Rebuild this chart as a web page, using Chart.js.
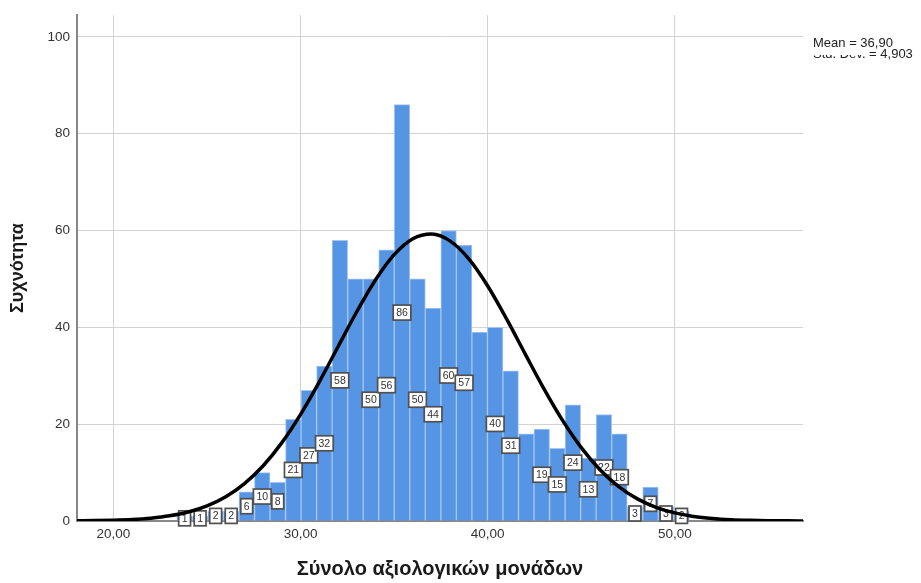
<!DOCTYPE html>
<html>
<head>
<meta charset="utf-8">
<script src="https://cdn.jsdelivr.net/npm/chart.js@4.4.1/dist/chart.umd.min.js"></script>
<style>
  html, body { margin: 0; padding: 0; background: #fff; }
  #wrap { width: 921px; height: 583px; }
</style>
</head>
<body>
<div id="wrap"><canvas id="hist" width="921" height="583"></canvas></div>
<script>
// histogram bins (centre of each bin) and counts
const binCenters = [23.80, 24.63, 25.46, 26.29, 27.12, 27.95, 28.78, 29.61, 30.44, 31.27,
  32.10, 32.93, 33.76, 34.59, 35.42, 36.25, 37.08, 37.91, 38.74, 39.57, 40.40, 41.23,
  42.06, 42.89, 43.72, 44.55, 45.38, 46.21, 47.04, 47.87, 48.70, 49.53, 50.36];
const counts = [1, 1, 2, 2, 6, 10, 8, 21, 27, 32, 58, 50, 50, 56, 86, 50, 44, 60, 57, 39,
  40, 31, 18, 19, 15, 24, 13, 22, 18, 3, 7, 3, 2];
// labels SPSS actually shows (overlapping ones are dropped)
const barLabels = ['1', '1', '2', '2', '6', '10', '8', '21', '27', '32', '58', null, '50',
  '56', '86', '50', '44', '60', '57', null, '40', '31', null, '19', '15', '24', '13', '22',
  '18', '3', '7', '3', '2'];

// normal curve
const curveX = [18, 19, 20, 21, 22, 23, 24, 25, 26, 27, 28, 29, 30, 31, 32, 33, 34, 35, 36,
  37, 38, 39, 40, 41, 42, 43, 44, 45, 46, 47, 48, 49, 50, 51, 52, 53, 54, 55, 56, 57];
const curveY = [0.04, 0.08, 0.16, 0.31, 0.59, 1.07, 1.86, 3.12, 5.01, 7.73, 11.42, 16.19,
  22.04, 28.75, 35.99, 43.22, 49.78, 55.01, 58.31, 59.29, 57.82, 54.10, 48.55, 41.80, 34.52,
  27.35, 20.78, 15.15, 10.59, 7.11, 4.57, 2.82, 1.67, 0.95, 0.52, 0.27, 0.14, 0.07, 0.03, 0.01];

const xTicks = [20, 30, 40, 50];
const yTicks = [0, 20, 40, 60, 80, 100];
const statLines = ['Mean = 36,90', 'Std. Dev. = 4,903'];

const FONT = '"Liberation Sans", Arial, sans-serif';

const barLabelPlugin = {
  id: 'barLabels',
  afterDatasetDraw(chart, args) {
    if (args.index !== 0) return;
    const ctx = chart.ctx;
    ctx.save();
    ctx.font = '10.5px ' + FONT;
    ctx.textAlign = 'center';
    ctx.textBaseline = 'middle';
    args.meta.data.forEach((bar, i) => {
      const txt = barLabels[i];
      if (!txt) return;
      const cy = (bar.y + bar.base) / 2;
      const w = ctx.measureText(txt).width + 6;
      const h = 15;
      ctx.fillStyle = '#fff';
      ctx.fillRect(bar.x - w / 2, cy - h / 2, w, h);
      ctx.strokeStyle = '#505050';
      ctx.lineWidth = 1.7;
      ctx.strokeRect(bar.x - w / 2, cy - h / 2, w, h);
      ctx.fillStyle = '#333';
      ctx.fillText(txt, bar.x, cy + 0.5);
    });
    ctx.restore();
  },
  afterDraw(chart) {
    const ctx = chart.ctx;
    ctx.save();
    ctx.font = '13px ' + FONT;
    ctx.fillStyle = '#222';
    ctx.textBaseline = 'alphabetic';
    ctx.fillText(statLines[1], 813, 58);
    // the first line's box hides the top of the second one
    ctx.fillStyle = '#fff';
    ctx.fillRect(811, 30, 57, 25);
    ctx.fillStyle = '#222';
    ctx.fillText(statLines[0], 813, 47);
    ctx.restore();
  }
};

new Chart(document.getElementById('hist'), {
  data: {
    datasets: [
      {
        type: 'bar',
        data: binCenters.map((x, i) => ({ x: x, y: counts[i] })),
        backgroundColor: '#5595e3',
        borderColor: '#a6c6f0',
        borderWidth: 1,
        barPercentage: 1,
        categoryPercentage: 1,
        order: 2,
      },
      {
        type: 'line',
        data: curveX.map((x, i) => ({ x: x, y: curveY[i] })),
        borderColor: '#000',
        borderWidth: 3.5,
        pointRadius: 0,
        tension: 0.4,
        cubicInterpolationMode: 'monotone',
        fill: false,
        order: 1,
      },
    ],
  },
  options: {
    responsive: false,
    animation: false,
    layout: { padding: { left: 0, right: 118, top: 6, bottom: 0 } },
    plugins: {
      legend: { display: false },
      tooltip: { enabled: false },
    },
    scales: {
      x: {
        type: 'linear',
        min: 18.05,
        max: 56.85,
        offset: false,
        afterFit: (s) => { s.height = 62; },
        afterBuildTicks: (s) => { s.ticks = xTicks.map(v => ({ value: v })); },
        ticks: {
          color: '#333',
          padding: 5,
          font: { family: FONT, size: 13.5 },
          callback: (v) => v.toFixed(2).replace('.', ','),
        },
        grid: { color: '#d3d3d3', lineWidth: 1, drawTicks: false, offset: false },
        border: { color: '#888', width: 2 },
        title: {
          display: true,
          text: 'Σύνολο αξιολογικών μονάδων',
          color: '#1a1a1a',
          font: { family: FONT, size: 20, weight: 'bold' },
          padding: { top: 0, bottom: 2 },
        },
      },
      y: {
        min: 0,
        max: 104.5,
        afterFit: (s) => { s.width = 77; },
        afterBuildTicks: (s) => { s.ticks = yTicks.map(v => ({ value: v })); },
        ticks: {
          color: '#333',
          padding: 7,
          font: { family: FONT, size: 13.5 },
        },
        grid: { color: '#d3d3d3', lineWidth: 1, drawTicks: false },
        border: { color: '#888', width: 2 },
        title: {
          display: true,
          text: 'Συχνότητα',
          color: '#1a1a1a',
          font: { family: FONT, size: 18, weight: 'bold' },
          padding: { top: 7, bottom: 0 },
        },
      },
    },
  },
  plugins: [barLabelPlugin],
});
</script>
</body>
</html>
